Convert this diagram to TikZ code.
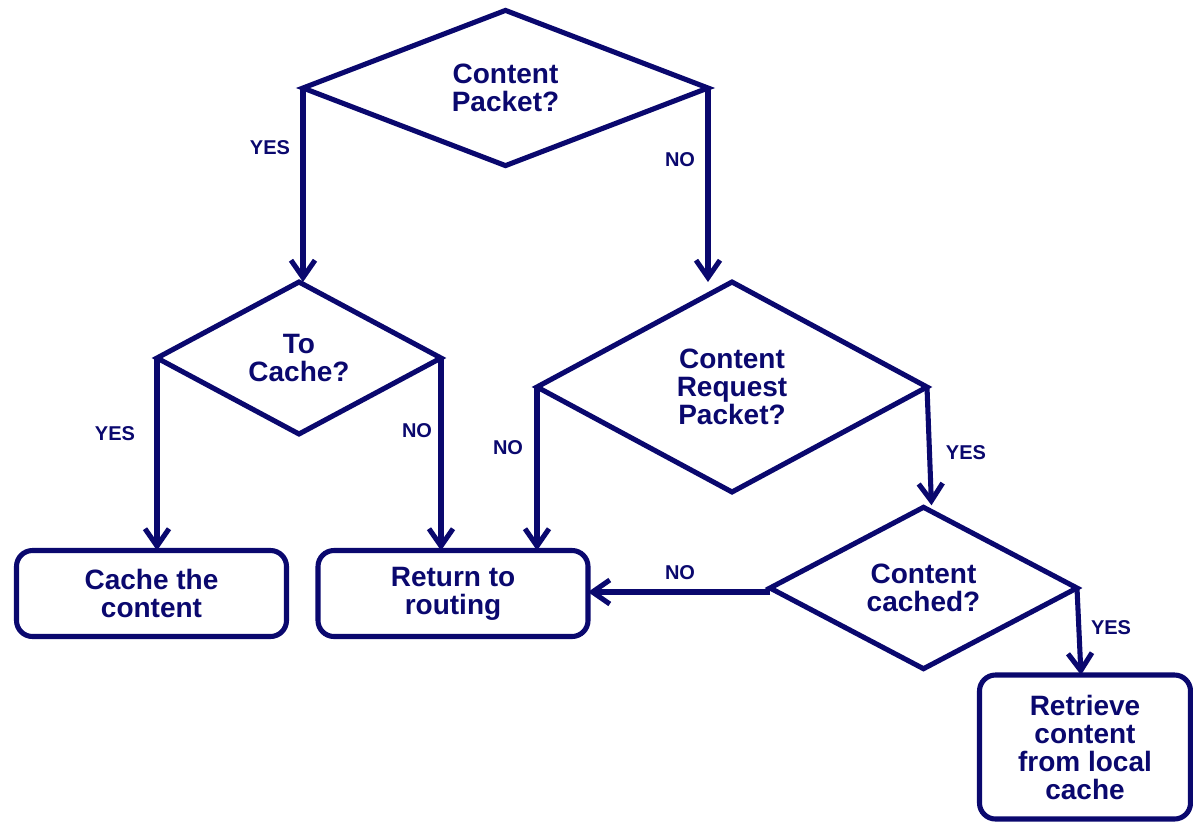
\documentclass[tikz,border=0pt]{standalone}
\usepackage{fontspec}
\setmainfont{Liberation Sans}
\usetikzlibrary{shapes.geometric,arrows.meta}
\definecolor{navy}{RGB}{10,8,110}
\begin{document}
\begin{tikzpicture}[x=0.75pt,y=-0.75pt,
  every node/.style={text=navy,font=\bfseries},
  decision/.style={diamond,draw=navy,line width=3.8pt,inner sep=0pt,outer sep=0pt,
    align=center,font=\bfseries\fontsize{21}{21}\selectfont},
  process/.style={rectangle,draw=navy,line width=3.8pt,rounded corners=12pt,inner sep=0pt,
    outer sep=0pt,align=center,font=\bfseries\fontsize{21}{21}\selectfont},
  flow/.style={draw=navy,line width=3.8pt,-{Straight Barb[length=13pt,width=18pt]}},
  answer/.style={font=\bfseries\fontsize{15}{15}\selectfont}]
\useasboundingbox (0,0) rectangle (1193,822);

% decisions
\node[decision,minimum width=303.75pt,minimum height=114.75pt] (pkt) at (505.5,88) {Content\\Packet?};
\node[decision,minimum width=213pt,minimum height=114pt] (tocache) at (299,358) {To\\Cache?};
\node[decision,minimum width=292.5pt,minimum height=157.5pt] (req) at (732,387) {Content\\Request\\Packet?};
\node[decision,minimum width=230.25pt,minimum height=114pt] (cached) at (923.5,588) {Content\\cached?};

% actions
\node[process,minimum width=202.5pt,minimum height=64.5pt] (store) at (151.5,593.5) {Cache the\\content};
\node[process,minimum width=202.5pt,minimum height=64.5pt] (route) at (453,593.5) {Return to\\routing};
\node[process,minimum width=158.25pt,minimum height=108pt] (fetch) at (1085,747) {Retrieve\\content\\from local\\cache};

% connectors
\draw[flow] (pkt.west) -- (pkt.west |- tocache.north);
\draw[flow] (pkt.east) -- (pkt.east |- req.north);
\draw[flow] (tocache.west) -- (tocache.west |- store.north);
\draw[flow] (tocache.east) -- (tocache.east |- route.north);
\draw[flow] (req.west) -- (req.west |- route.north);
\draw[flow] (req.east) -- ([xshift=6pt,yshift=1.5pt]cached.north);
\draw[flow] ([yshift=-3pt]cached.west) -- ([yshift=-3pt]cached.west -| route.east);
\draw[flow] (cached.east) -- ([xshift=-3pt]fetch.north);

% branch labels
\node[answer] (l1) at (270,148) {YES};
\node[answer] (l2) at (680,160) {NO};
\node[answer] (l3) at (115,434) {YES};
\node[answer] (l4) at (417,431) {NO};
\node[answer] (l5) at (508,448) {NO};
\node[answer] (l6) at (966,453) {YES};
\node[answer] (l7) at (680,573) {NO};
\node[answer] (l8) at (1111,628) {YES};
\end{tikzpicture}
\end{document}
